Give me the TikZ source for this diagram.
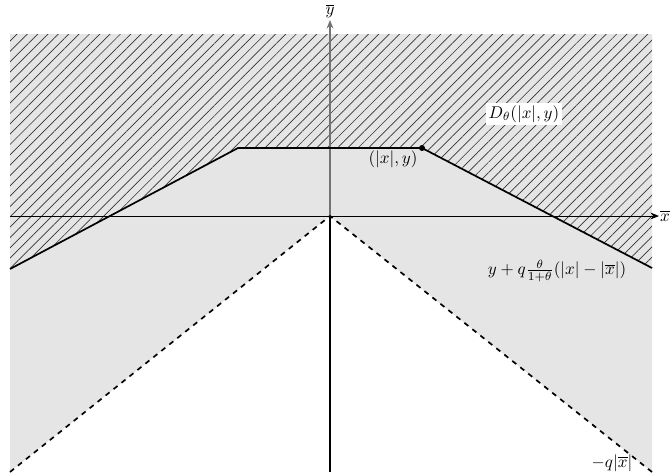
\documentclass[tikz,border=0pt]{standalone}
\usetikzlibrary{patterns.meta,arrows.meta}
\begin{document}
\begin{tikzpicture}[x=0.5882pt,y=-0.5882pt,
  axis/.style={-{Stealth[length=5pt,width=4pt]}},
  bound/.style={line width=1pt},
  lab/.style={inner sep=1.5pt}]
\useasboundingbox (0,0) rectangle (670,475);
\coordinate (O) at (330,216);
\coordinate (BL) at (10,472);
\coordinate (BR) at (652,472);
\coordinate (TL) at (10,34);
\coordinate (TR) at (652,34);
\coordinate (L) at (10,269);
\coordinate (A) at (238,148);
\coordinate (P) at (422,148);
\coordinate (R) at (652,268);
\coordinate (XL) at (10,216);
\coordinate (XR) at (659,216);
\coordinate (YB) at (330,472);
\coordinate (YT) at (330,20);
\fill[black!10] (TL) -- (TR) -- (BR) -- (O) -- (BL) -- cycle;
\fill[pattern={Lines[angle=45,distance=4.3pt,line width=0.4pt]},pattern color=black!80] (TL) -- (TR) -- (R) -- (P) -- (A) -- (L) -- cycle;
\draw[axis,line width=0.5pt] (XL) -- (XR);
\draw[line width=1pt] (YB) -- (O);
\draw[axis,line width=1pt,draw=black!55] (O) -- (YT);
\node[anchor=west,inner sep=0.5pt] (xlab) at (XR) {$\overline{x}$};
\node[anchor=south,inner sep=1pt] (ylab) at (YT) {$\overline{y}$};
\draw[bound] (L) -- (A) -- (P) -- (R);
\draw[bound,dashed] (BL) -- (O) -- (BR);
\fill (P) circle (3);
\node[lab,fill=white] (dlab) at (524,114) {$D_\theta(|x|,y)$};
\node[lab] (plab) at (393,159) {$(|x|,y)$};
\node[lab] (flab) at (557,271) {$y+q\frac{\theta}{1+\theta}(|x|-|\overline{x}|)$};
\node[lab] (qlab) at (612,463) {$-q|\overline{x}|$};
\end{tikzpicture}
\end{document}
